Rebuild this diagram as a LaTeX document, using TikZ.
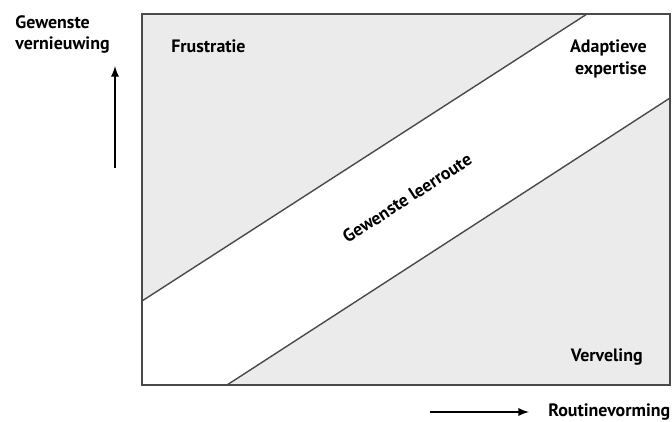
\documentclass[tikz,border=0pt]{standalone}
\usepackage{fontspec}
\setmainfont{PT Sans}
\definecolor{vlak}{HTML}{EBEBEC}
\definecolor{lijn}{HTML}{4A4A4A}
\tikzset{lbl/.style={font=\bfseries\fontsize{10.2}{12.5}\selectfont, inner sep=0pt}}
\begin{document}
\begin{tikzpicture}
    \useasboundingbox (0,0) rectangle (13.44,8.42);

    \begin{scope}
        \fill[vlak] (2.84,.72) rectangle (13.4,8.14);
        \fill[white] (2.84,2.4) -- (11.74,8.14) -- (13.4,8.14) -- (13.4,6.46) -- (4.54,.72) -- (2.84,.72) -- cycle;
        \draw[lijn, line width=.8pt] (2.84,2.4) -- (11.74,8.14);
        \draw[lijn, line width=.8pt] (4.54,.72) -- (13.4,6.46);
        \draw[lijn, line width=1.1pt] (2.84,.72) rectangle (13.4,8.14);
    \end{scope}

    \node[lbl, anchor=west, align=left] (vernieuwing) at (.3,7.73) {Gewenste\\vernieuwing};
    \node[lbl, anchor=west] (frustratie) at (3.42,7.5) {Frustratie};
    \node[lbl, anchor=east, align=right] (expertise) at (12.94,7.24) {Adaptieve\\expertise};
    \node[lbl, anchor=east] (verveling) at (12.86,1.28) {Verveling};
    \node[lbl, anchor=west] (routine) at (10.96,.18) {Routinevorming};
    \node[lbl, rotate=32.8] (leerroute) at (8.14,4.46) {Gewenste leerroute};

    \coordinate (v0) at (2.3,5.06);
    \coordinate (v1) at (2.3,7.1);
    \coordinate (h0) at (8.6,.18);
    \coordinate (h1) at (10.58,.18);
    \draw[-latex, line width=1.1pt] (v0) -- (v1);
    \draw[-latex, line width=1.1pt] (h0) -- (h1);
\end{tikzpicture}
\end{document}
